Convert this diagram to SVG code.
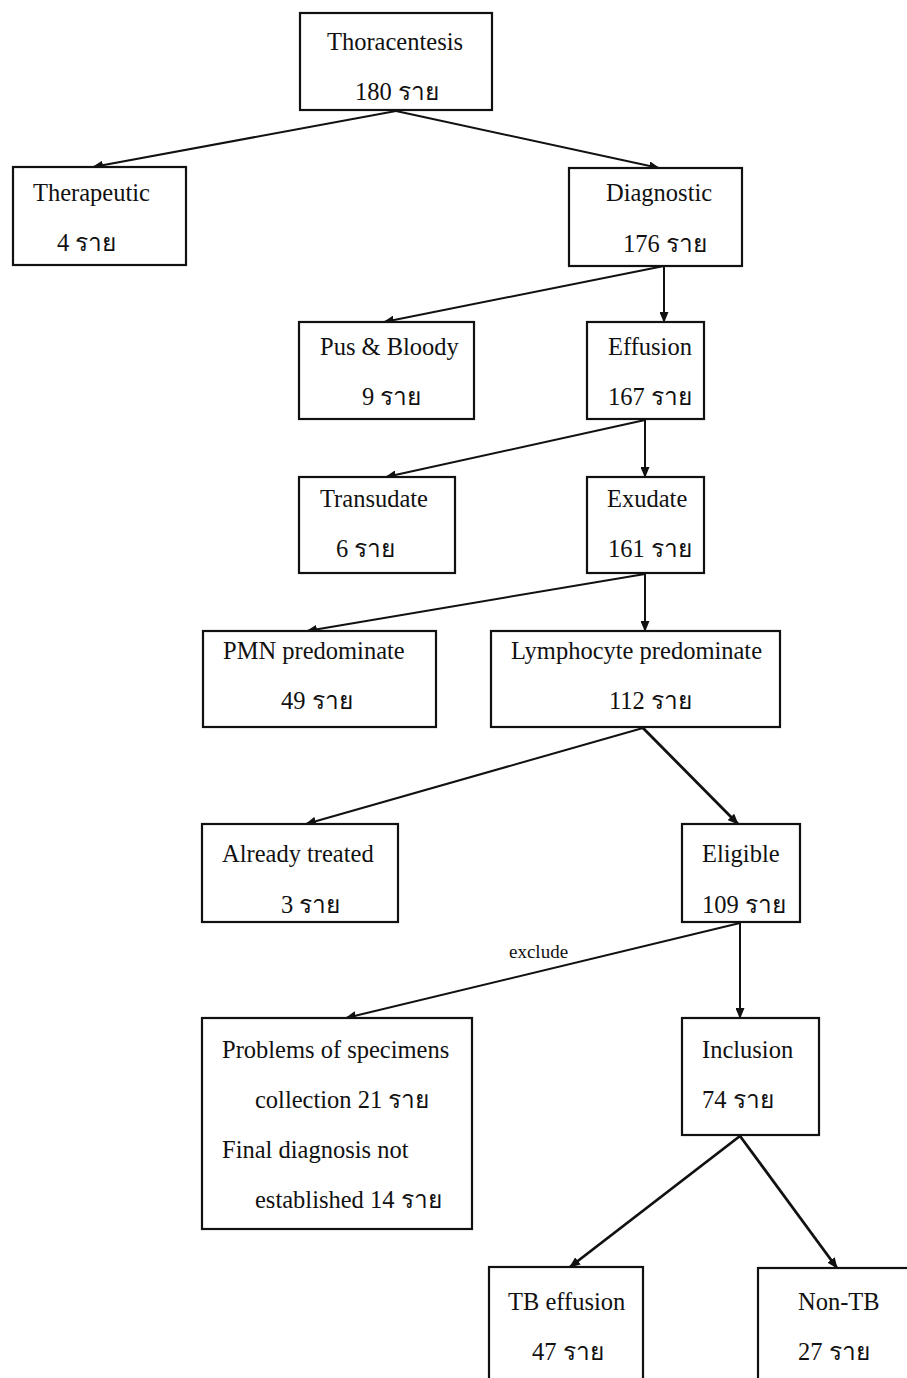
<svg xmlns="http://www.w3.org/2000/svg" width="907" height="1378" viewBox="0 0 907 1378">
<style>
.box{fill:#fff;stroke:#111;stroke-width:2.2}
.t{font-family:"Liberation Serif","Times New Roman",serif;font-size:24.5px;fill:#111}
.s{font-family:"Liberation Serif","Times New Roman",serif;font-size:19px;fill:#111}
.c{fill:none;stroke:#111;stroke-width:2}
.k{fill:none;stroke:#111;stroke-width:2.8}
</style>
<defs>
<marker id="ah" markerUnits="userSpaceOnUse" markerWidth="11" markerHeight="9" viewBox="0 0 11 9" refX="10" refY="4.5" orient="auto">
<path d="M0,0 L11,4.5 L0,9 Z" fill="#111"/>
</marker>
</defs>
<rect width="907" height="1378" fill="#fff"/>
<g id="connectors">
<line class="c" x1="396" y1="111" x2="93" y2="167" marker-end="url(#ah)"/>
<line class="c" x1="396" y1="111" x2="659" y2="168" marker-end="url(#ah)"/>
<line class="c" x1="664" y1="266" x2="384" y2="322" marker-end="url(#ah)"/>
<line class="c" x1="664" y1="266" x2="664" y2="322" marker-end="url(#ah)"/>
<line class="c" x1="645" y1="420" x2="386" y2="477" marker-end="url(#ah)"/>
<line class="c" x1="645" y1="420" x2="645" y2="477" marker-end="url(#ah)"/>
<line class="c" x1="645" y1="574" x2="307" y2="631" marker-end="url(#ah)"/>
<line class="c" x1="645" y1="574" x2="645" y2="631" marker-end="url(#ah)"/>
<line class="c" x1="643" y1="728" x2="306" y2="824" marker-end="url(#ah)"/>
<line class="k" x1="643" y1="728" x2="738" y2="824" marker-end="url(#ah)"/>
<line class="c" x1="740" y1="923" x2="346" y2="1018" marker-end="url(#ah)"/>
<line class="c" x1="740" y1="923" x2="740" y2="1018" marker-end="url(#ah)"/>
<text class="s" x="509" y="958">exclude</text>
<line class="k" x1="740" y1="1136" x2="570" y2="1267" marker-end="url(#ah)"/>
<line class="k" x1="740" y1="1136" x2="837" y2="1268" marker-end="url(#ah)"/>
</g>
<g id="thoracentesis"><rect class="box" x="300" y="13" width="192" height="97"/>
<text class="t" x="327" y="50">Thoracentesis</text><text class="t" x="355" y="100">180 ราย</text></g>
<g id="therapeutic"><rect class="box" x="13" y="167" width="173" height="98"/>
<text class="t" x="33" y="201">Therapeutic</text><text class="t" x="57" y="251">4 ราย</text></g>
<g id="diagnostic"><rect class="box" x="569" y="168" width="173" height="98"/>
<text class="t" x="606" y="201">Diagnostic</text><text class="t" x="623" y="252">176 ราย</text></g>
<g id="pus"><rect class="box" x="299" y="322" width="175" height="97"/>
<text class="t" x="320" y="355">Pus &amp; Bloody</text><text class="t" x="362" y="405">9 ราย</text></g>
<g id="effusion"><rect class="box" x="587" y="322" width="117" height="97"/>
<text class="t" x="608" y="355">Effusion</text><text class="t" x="608" y="405">167 ราย</text></g>
<g id="transudate"><rect class="box" x="299" y="477" width="156" height="96"/>
<text class="t" x="320" y="507">Transudate</text><text class="t" x="336" y="557">6 ราย</text></g>
<g id="exudate"><rect class="box" x="587" y="477" width="117" height="96"/>
<text class="t" x="607" y="507">Exudate</text><text class="t" x="608" y="557">161 ราย</text></g>
<g id="pmn"><rect class="box" x="203" y="631" width="233" height="96"/>
<text class="t" x="223" y="659">PMN predominate</text><text class="t" x="281" y="709">49 ราย</text></g>
<g id="lympho"><rect class="box" x="491" y="631" width="289" height="96"/>
<text class="t" x="511" y="659">Lymphocyte predominate</text><text class="t" x="609" y="709">112 ราย</text></g>
<g id="treated"><rect class="box" x="202" y="824" width="196" height="98"/>
<text class="t" x="222" y="862">Already treated</text><text class="t" x="281" y="913">3 ราย</text></g>
<g id="eligible"><rect class="box" x="682" y="824" width="118" height="98"/>
<text class="t" x="702" y="862">Eligible</text><text class="t" x="702" y="913">109 ราย</text></g>
<g id="problems"><rect class="box" x="202" y="1018" width="270" height="211"/>
<text class="t" x="222" y="1058">Problems of specimens</text>
<text class="t" x="255" y="1108">collection  21 ราย</text>
<text class="t" x="222" y="1158">Final diagnosis not</text>
<text class="t" x="255" y="1208">established 14 ราย</text></g>
<g id="inclusion"><rect class="box" x="682" y="1018" width="137" height="117"/>
<text class="t" x="702" y="1058">Inclusion</text><text class="t" x="702" y="1108">74 ราย</text></g>
<g id="tb"><rect class="box" x="489" y="1267" width="154" height="130"/>
<text class="t" x="508" y="1310">TB effusion</text><text class="t" x="532" y="1360">47 ราย</text></g>
<g id="nontb"><rect class="box" x="758" y="1268" width="160" height="130"/>
<text class="t" x="798" y="1310">Non-TB</text><text class="t" x="798" y="1360">27 ราย</text></g>
</svg>
